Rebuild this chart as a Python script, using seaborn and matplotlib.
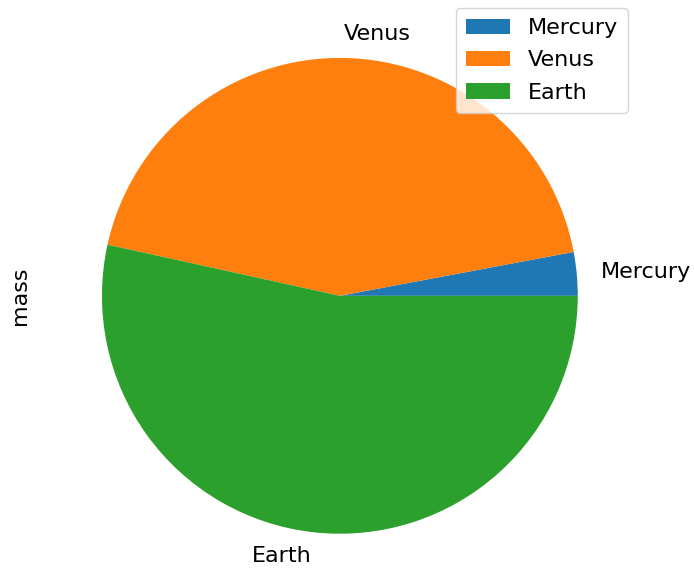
import matplotlib
matplotlib.use("Agg")
import matplotlib.pyplot as plt
import seaborn as sns

planets = ["Mercury", "Venus", "Earth"]
mass = [0.330, 4.87, 5.97]

sns.set_theme(style="white")
plt.rcParams["font.family"] = ["DejaVu Sans"]
plt.rcParams["font.size"] = 16
plt.rcParams["text.color"] = "black"
plt.rcParams["axes.labelcolor"] = "black"

colors = sns.color_palette("tab10", 3)

fig = plt.figure(figsize=(6.94, 5.70), dpi=100)
ax = fig.add_axes([0.0612, -0.041, 0.857, 1.044])
wedges, texts = ax.pie(mass, labels=planets, colors=colors,
                       wedgeprops={"linewidth": 0, "edgecolor": "none"},
                       textprops={"fontsize": 16, "color": "black"})
ax.set_ylabel("mass", fontsize=16, labelpad=9)
ax.legend(wedges, planets, loc="upper right", fontsize=16,
          labelspacing=0.55, borderpad=0.45, handlelength=2.0,
          bbox_to_anchor=(0.921, 1.005), bbox_transform=fig.transFigure)

fig.savefig("out.png", dpi=100)
